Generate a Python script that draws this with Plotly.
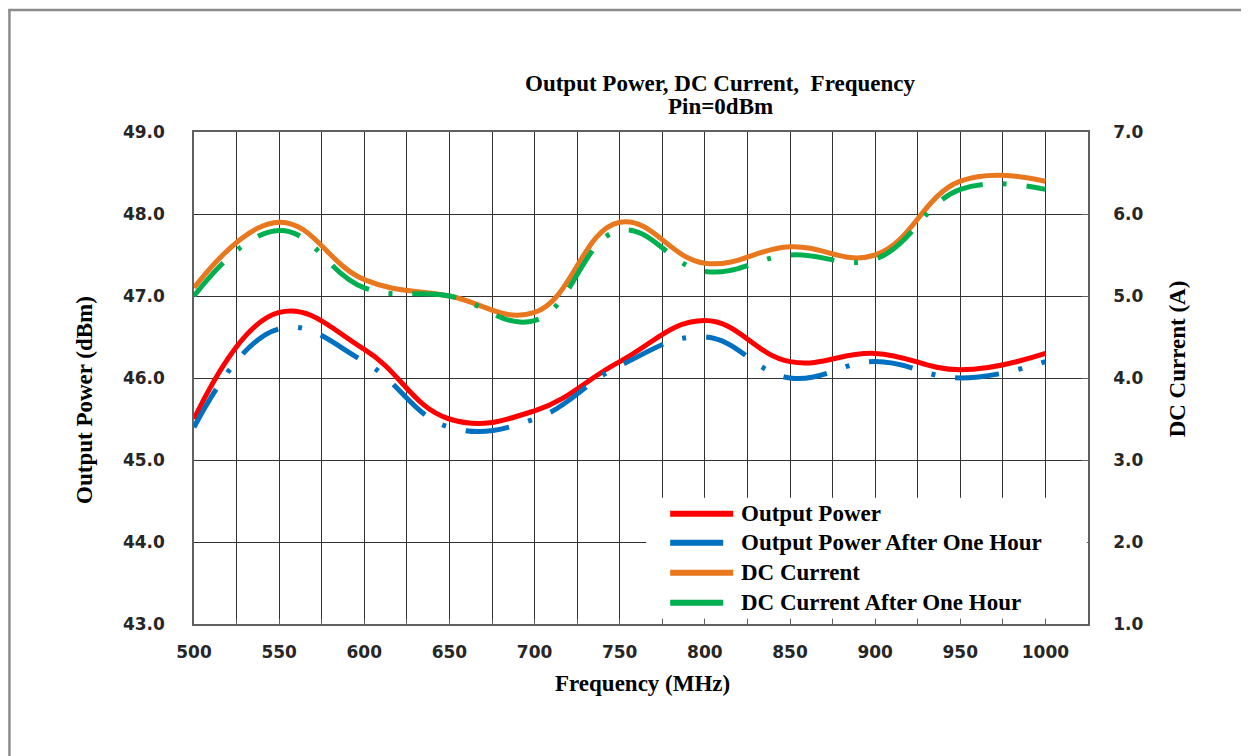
import plotly.graph_objects as go

freq = [500, 550, 600, 650, 700, 750, 800, 850, 900, 950, 1000]
output_power = [45.5, 46.8, 46.35, 45.5, 45.6, 46.2, 46.7, 46.2, 46.3, 46.1, 46.3]
output_power_hr = [45.4, 46.6, 46.2, 45.4, 45.5, 46.15, 46.5, 46.0, 46.2, 46.0, 46.2]
dc_current = [5.1, 5.9, 5.2, 5.0, 4.8, 5.9, 5.4, 5.6, 5.5, 6.4, 6.4]
dc_current_hr = [5.0, 5.8, 5.1, 5.0, 4.7, 5.8, 5.3, 5.5, 5.45, 6.3, 6.3]

names = ["Output Power", "Output Power After One Hour", "DC Current", "DC Current After One Hour"]
colors = ["#FF0000", "#0070C0", "#E8771E", "#00B050"]
dashpat = "44px,20px,4px,20px"
smooth = 1.2

fig = go.Figure()
fig.add_trace(go.Scatter(x=freq, y=output_power, mode="lines", name=names[0],
                         line=dict(color=colors[0], width=5, shape="spline", smoothing=smooth)))
fig.add_trace(go.Scatter(x=freq, y=output_power_hr, mode="lines", name=names[1],
                         line=dict(color=colors[1], width=5, shape="spline", smoothing=smooth, dash=dashpat)))
fig.add_trace(go.Scatter(x=freq, y=dc_current, mode="lines", name=names[2], yaxis="y2",
                         line=dict(color=colors[2], width=5, shape="spline", smoothing=smooth)))
fig.add_trace(go.Scatter(x=freq, y=dc_current_hr, mode="lines", name=names[3], yaxis="y2",
                         line=dict(color=colors[3], width=5, shape="spline", smoothing=smooth, dash=dashpat)))

tickfont = dict(family="DejaVu Sans", size=17, color="#262626", weight="bold")
serif = "Liberation Serif"
gridc = "#333333"
framec = "#606060"

fig.update_layout(
    width=1249, height=756,
    margin=dict(l=186, r=169, t=124, b=140),
    paper_bgcolor="white", plot_bgcolor="white",
    showlegend=False,
    xaxis=dict(range=[500, 1025], dtick=50, tick0=500, showgrid=True, gridcolor=gridc, gridwidth=1,
               minor=dict(dtick=25, showgrid=True, gridcolor=gridc, gridwidth=1, ticks="inside", ticklen=5, tickcolor=framec),
               ticks="inside", ticklen=5, tickcolor=framec,
               showline=True, linecolor=framec, linewidth=1.5, mirror=True,
               tickfont=tickfont, ticklabelstandoff=12, zeroline=False),
    yaxis=dict(range=[43, 49], dtick=1, tick0=43, tickformat=".1f", showgrid=True, gridcolor=gridc, gridwidth=1,
               showline=True, linecolor=framec, linewidth=1.5, ticks="", tickfont=tickfont,
               ticklabelstandoff=24, zeroline=False),
    yaxis2=dict(range=[1, 7], dtick=1, tick0=1, tickformat=".1f", overlaying="y", side="right",
                showgrid=False, showline=True, linecolor=framec, linewidth=1.5,
                ticks="inside", ticklen=6, tickcolor=framec, tickfont=tickfont,
                ticklabelstandoff=20, zeroline=False),
)

def px_x(px):
    return (px - 194) / 893.7

def px_y(py):
    return (624.3 - py) / 492.6

shapes = []
# outer border (top and left edges visible)
shapes.append(dict(type="line", xref="paper", yref="paper", x0=px_x(8.5), x1=px_x(1262), y0=px_y(9.5), y1=px_y(9.5),
                   line=dict(color="#8c8c8c", width=2.5), layer="above"))
shapes.append(dict(type="line", xref="paper", yref="paper", x0=px_x(9.5), x1=px_x(9.5), y0=px_y(8.5), y1=px_y(770),
                   line=dict(color="#8c8c8c", width=2.5), layer="above"))
# legend background
shapes.append(dict(type="rect", xref="paper", yref="paper", x0=px_x(646), x1=px_x(1086.5), y0=px_y(619), y1=px_y(498),
                   fillcolor="white", line=dict(width=0), layer="above"))
row_y = [514, 543, 573, 603]
line_end = [733, 723, 733, 723]
annotations = []
for i in range(4):
    shapes.append(dict(type="line", xref="paper", yref="paper", x0=px_x(670), x1=px_x(line_end[i]),
                       y0=px_y(row_y[i]), y1=px_y(row_y[i]),
                       line=dict(color=colors[i], width=6), layer="above"))
    annotations.append(dict(text=names[i], xref="paper", yref="paper", x=px_x(739), y=px_y(row_y[i]),
                            xanchor="left", yanchor="middle", showarrow=False,
                            font=dict(family=serif, size=23, color="black", weight="bold")))

titlefont = dict(family=serif, size=23, color="black", weight="bold")
annotations.append(dict(text="Output Power, DC Current,  Frequency", xref="paper", yref="paper",
                        x=px_x(720), y=px_y(83), xanchor="center", yanchor="middle", showarrow=False, font=titlefont))
annotations.append(dict(text="Pin=0dBm", xref="paper", yref="paper",
                        x=px_x(720), y=px_y(106), xanchor="center", yanchor="middle", showarrow=False, font=titlefont))
annotations.append(dict(text="Frequency (MHz)", xref="paper", yref="paper",
                        x=px_x(642), y=px_y(684), xanchor="center", yanchor="middle", showarrow=False, font=titlefont))
annotations.append(dict(text="Output Power (dBm)", xref="paper", yref="paper", textangle=-90,
                        x=px_x(85), y=px_y(400), xanchor="center", yanchor="middle", showarrow=False, font=titlefont))
annotations.append(dict(text="DC Current (A)", xref="paper", yref="paper", textangle=-90,
                        x=px_x(1177), y=px_y(359), xanchor="center", yanchor="middle", showarrow=False, font=titlefont))

fig.update_layout(shapes=shapes, annotations=annotations)
fig.write_html("out.html")
